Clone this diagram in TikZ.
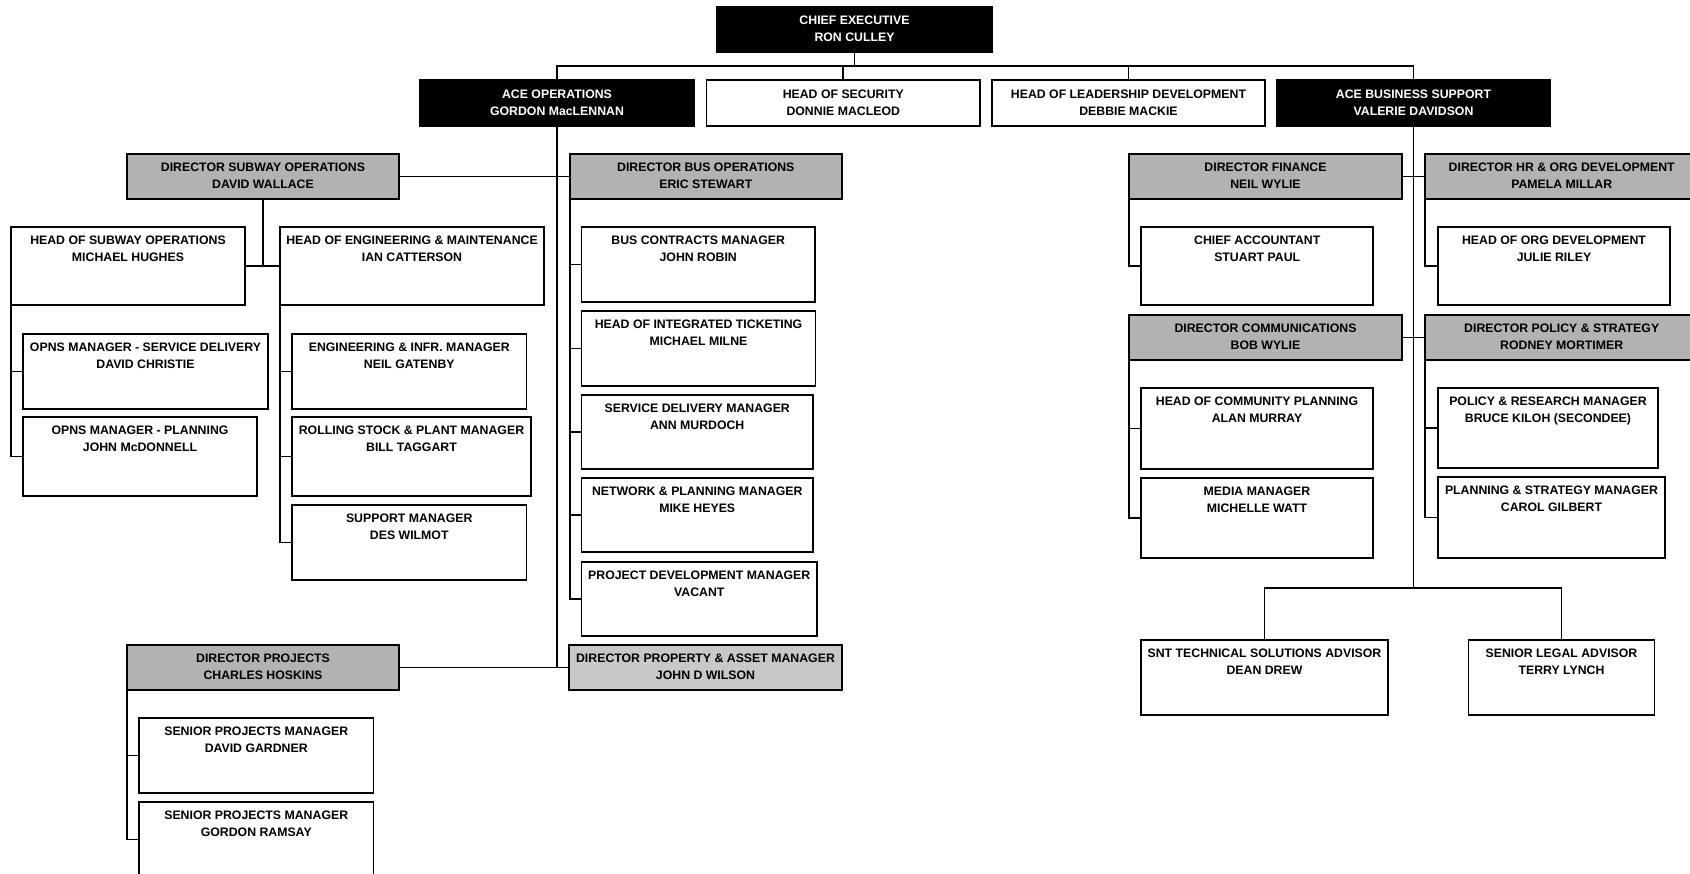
\documentclass[tikz,border=0pt]{standalone}
\usepackage{fontspec}
\setmainfont{Liberation Sans}
\definecolor{dirgray}{HTML}{B2B2B2}
\definecolor{propgray}{HTML}{C8C8C8}
\newcommand\orgbox[8]{%
  \node[#2, minimum width={(#6-#4)*1pt}, minimum height={(#7-#5)*1pt},
        label={[#3]north:{#8}}] (#1) at ({(#4+#6)/2},{(#5+#7)/2}) {};}
\begin{document}
\begin{tikzpicture}[x=1pt,y=-1pt,
  box/.style={rectangle, draw=black, line width=1.9pt, inner sep=0pt, outer sep=0pt, fill=white},
  execbox/.style={box, fill=black},
  dirbox/.style={box, fill=dirgray},
  propbox/.style={box, fill=propgray},
  lbl/.style={anchor=north, yshift=-8.5pt, inner sep=0pt, align=center,
              font=\bfseries\fontsize{12.3}{17}\selectfont, text=black},
  lblce/.style={lbl, text=white},
  lblw/.style={lbl, text=white, yshift=-1.2pt},
  lblt/.style={lbl, yshift=-1.2pt},
  conn/.style={draw=black, line width=1.9pt}]
\useasboundingbox (0,0) rectangle (1690,874);
\fill[white] (0,0) rectangle (1690,874);
\clip (0,0) rectangle (1690,874);

% top level
\orgbox{ce}{execbox}{lblce}{717}{7}{992}{52}{CHIEF EXECUTIVE\\RON CULLEY}
\orgbox{aceops}{execbox}{lblw}{420}{80}{694}{126}{ACE OPERATIONS\\GORDON MacLENNAN}
\orgbox{hos}{box}{lblt}{706.5}{80}{980}{126}{HEAD OF SECURITY\\DONNIE MACLEOD}
\orgbox{hold}{box}{lblt}{992}{80}{1265}{126}{HEAD OF LEADERSHIP DEVELOPMENT\\DEBBIE MACKIE}
\orgbox{acebs}{execbox}{lblw}{1277}{80}{1550}{126}{ACE BUSINESS SUPPORT\\VALERIE DAVIDSON}

% operations
\orgbox{dso}{dirbox}{lbl}{127}{154}{399}{199}{DIRECTOR SUBWAY OPERATIONS\\DAVID WALLACE}
\orgbox{dbo}{dirbox}{lbl}{569.6}{154}{842}{199}{DIRECTOR BUS OPERATIONS\\ERIC STEWART}
\orgbox{hoso}{box}{lbl}{11}{227}{245}{305}{HEAD OF SUBWAY OPERATIONS\\MICHAEL HUGHES}
\orgbox{hoem}{box}{lbl}{280}{227}{544}{305}{HEAD OF ENGINEERING \& MAINTENANCE\\IAN CATTERSON}
\orgbox{omsd}{box}{lbl}{23}{334}{268}{409}{OPNS MANAGER - SERVICE DELIVERY\\DAVID CHRISTIE}
\orgbox{omp}{box}{lbl}{23}{417}{257}{496}{OPNS MANAGER - PLANNING\\JOHN McDONNELL}
\orgbox{eim}{box}{lbl}{292}{334}{526.5}{409}{ENGINEERING \& INFR. MANAGER\\NEIL GATENBY}
\orgbox{rspm}{box}{lbl}{292}{417}{531}{496}{ROLLING STOCK \& PLANT MANAGER\\BILL TAGGART}
\orgbox{sm}{box}{lbl}{292}{505}{526.5}{580}{SUPPORT MANAGER\\DES WILMOT}
\orgbox{bcm}{box}{lbl}{581.5}{227}{815}{302}{BUS CONTRACTS MANAGER\\JOHN ROBIN}
\orgbox{hit}{box}{lbl}{581.5}{311}{815.5}{386}{HEAD OF INTEGRATED TICKETING\\MICHAEL MILNE}
\orgbox{sdm}{box}{lbl}{581.5}{395}{813}{469}{SERVICE DELIVERY MANAGER\\ANN MURDOCH}
\orgbox{npm}{box}{lbl}{581.5}{478}{813}{552}{NETWORK \& PLANNING MANAGER\\MIKE HEYES}
\orgbox{pdm}{box}{lbl}{581.5}{562}{817}{636}{PROJECT DEVELOPMENT MANAGER\\VACANT}
\orgbox{dp}{dirbox}{lbl}{127}{645}{399}{690}{DIRECTOR PROJECTS\\CHARLES HOSKINS}
\orgbox{dpam}{propbox}{lbl}{569}{645}{842}{690}{DIRECTOR PROPERTY \& ASSET MANAGER\\JOHN D WILSON}
\orgbox{spma}{box}{lbl}{139}{718}{373.5}{793}{SENIOR PROJECTS MANAGER\\DAVID GARDNER}
\orgbox{spmb}{box}{lbl}{139}{802}{373.5}{877}{SENIOR PROJECTS MANAGER\\GORDON RAMSAY}

% business support
\orgbox{df}{dirbox}{lbl}{1129}{154}{1402}{199}{DIRECTOR FINANCE\\NEIL WYLIE}
\orgbox{dhr}{dirbox}{lbl}{1425.4}{154}{1698}{199}{DIRECTOR HR \& ORG DEVELOPMENT\\PAMELA MILLAR}
\orgbox{ca}{box}{lbl}{1141.4}{227}{1373}{305}{CHIEF ACCOUNTANT\\STUART PAUL}
\orgbox{hood}{box}{lbl}{1438}{227}{1670}{305}{HEAD OF ORG DEVELOPMENT\\JULIE RILEY}
\orgbox{dc}{dirbox}{lbl}{1129}{315}{1402}{360}{DIRECTOR COMMUNICATIONS\\BOB WYLIE}
\orgbox{dps}{dirbox}{lbl}{1425.4}{315}{1698}{360}{DIRECTOR POLICY \& STRATEGY\\RODNEY MORTIMER}
\orgbox{hocp}{box}{lbl}{1141}{388}{1373}{469}{HEAD OF COMMUNITY PLANNING\\ALAN MURRAY}
\orgbox{mm}{box}{lbl}{1141}{478}{1373}{558}{MEDIA MANAGER\\MICHELLE WATT}
\orgbox{prm}{box}{lbl}{1438}{388}{1658}{468}{POLICY \& RESEARCH MANAGER\\BRUCE KILOH (SECONDEE)}
\orgbox{psm}{box}{lbl}{1438}{477}{1665}{558}{PLANNING \& STRATEGY MANAGER\\CAROL GILBERT}
\orgbox{snt}{box}{lbl}{1141}{640}{1388}{715}{SNT TECHNICAL SOLUTIONS ADVISOR\\DEAN DREW}
\orgbox{sla}{box}{lbl}{1468.5}{640}{1654.5}{715}{SENIOR LEGAL ADVISOR\\TERRY LYNCH}

% connectors
\coordinate (tbus) at (854.5,66);
\coordinate (abus) at (1413.5,588);
\draw[conn] (ce.south) -- (ce.south |- tbus);
\draw[conn] (aceops.north) |- (tbus) -| (acebs.north);
\draw[conn] (hos.north) -- (hos.north |- tbus);
\draw[conn] (hold.north) -- (hold.north |- tbus);

\draw[conn] (aceops.south) -- (aceops.south |- dp.east);
\draw[conn] (dso.east) -- (dbo.west);
\draw[conn] (dp.east) -- (dpam.west);
\draw[conn] (dso.south) -- (dso.south |- hoso.east);
\draw[conn] (hoso.east) -- (hoem.west);
\draw[conn] (hoso.south west) |- (omp.west);
\draw[conn] (hoso.south west |- omsd.west) -- (omsd.west);
\draw[conn] (hoem.south west) |- (sm.west);
\draw[conn] (hoem.south west |- eim.west) -- (eim.west);
\draw[conn] (hoem.south west |- rspm.west) -- (rspm.west);
\draw[conn] (dbo.south west) |- (pdm.west);
\draw[conn] (dbo.south west |- bcm.west) -- (bcm.west);
\draw[conn] (dbo.south west |- hit.west) -- (hit.west);
\draw[conn] (dbo.south west |- sdm.west) -- (sdm.west);
\draw[conn] (dbo.south west |- npm.west) -- (npm.west);
\draw[conn] (dp.south west) |- (spmb.west);
\draw[conn] (dp.south west |- spma.west) -- (spma.west);

\draw[conn] (acebs.south) -- (abus);
\draw[conn] (df.east) -- (dhr.west);
\draw[conn] (dc.east) -- (dps.west);
\draw[conn] (df.south west) |- (ca.west);
\draw[conn] (dhr.south west) |- (hood.west);
\draw[conn] (dc.south west) |- (mm.west);
\draw[conn] (dc.south west |- hocp.west) -- (hocp.west);
\draw[conn] (dps.south west) |- (psm.west);
\draw[conn] (dps.south west |- prm.west) -- (prm.west);
\draw[conn] (snt.north) |- (abus) -| (sla.north);
\end{tikzpicture}
\end{document}
